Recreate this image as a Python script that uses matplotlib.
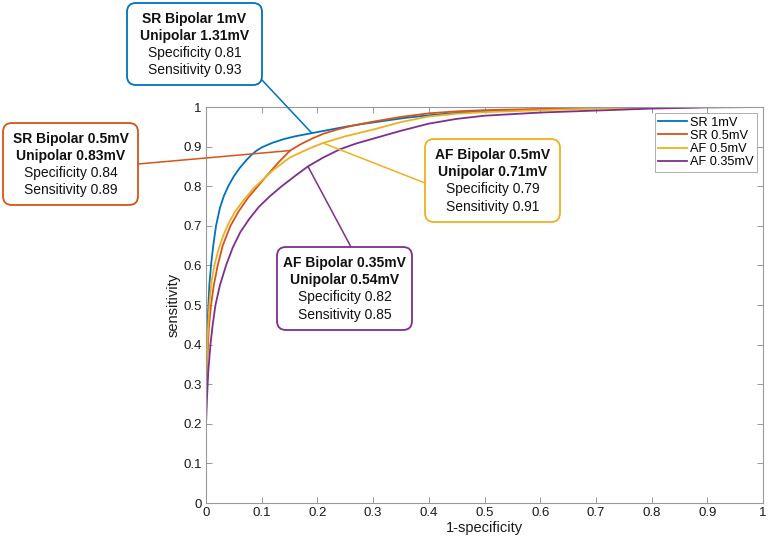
import matplotlib
matplotlib.use("Agg")
import matplotlib.pyplot as plt
from matplotlib.patches import FancyBboxPatch
from matplotlib.transforms import IdentityTransform

plt.rcParams['font.family'] = ['Liberation Sans', 'DejaVu Sans']

# ROC curves (1-specificity, sensitivity)
sr1_x = [0, 0, 0.001, 0.002, 0.004, 0.006, 0.009, 0.013, 0.018, 0.025, 0.032, 0.04, 0.05, 0.06, 0.07, 0.08, 0.09,
         0.10, 0.12, 0.14, 0.16, 0.19, 0.22, 0.25, 0.28, 0.32, 0.36, 0.40, 0.45, 0.50, 0.60, 0.70, 0.80, 0.90, 1.0]
sr1_y = [0, 0.30, 0.36, 0.42, 0.49, 0.55, 0.60, 0.65, 0.70, 0.745, 0.775, 0.80, 0.825, 0.845, 0.862, 0.877, 0.889,
         0.898, 0.910, 0.919, 0.926, 0.934, 0.942, 0.950, 0.957, 0.965, 0.973, 0.979, 0.985, 0.989, 0.994, 0.997,
         0.999, 1.0, 1.0]

sr05_x = [0, 0, 0.002, 0.005, 0.009, 0.014, 0.021, 0.030, 0.044, 0.058, 0.075, 0.093, 0.11, 0.13, 0.151, 0.17,
          0.19, 0.21, 0.235, 0.26, 0.30, 0.35, 0.40, 0.45, 0.50, 0.60, 0.70, 0.80, 0.90, 1.0]
sr05_y = [0, 0.25, 0.35, 0.44, 0.50, 0.55, 0.60, 0.65, 0.70, 0.735, 0.77, 0.80, 0.828, 0.86, 0.89, 0.906,
          0.92, 0.932, 0.943, 0.952, 0.963, 0.975, 0.984, 0.989, 0.992, 0.995, 0.998, 0.999, 1.0, 1.0]

af05_x = [0, 0, 0.001, 0.003, 0.006, 0.010, 0.015, 0.022, 0.030, 0.040, 0.052, 0.066, 0.085, 0.10, 0.12,
          0.15, 0.185, 0.21, 0.25, 0.30, 0.35, 0.40, 0.45, 0.50, 0.60, 0.70, 0.80, 0.90, 1.0]
af05_y = [0, 0.25, 0.33, 0.42, 0.50, 0.56, 0.60, 0.638, 0.672, 0.705, 0.735, 0.762, 0.794, 0.814, 0.84,
          0.872, 0.895, 0.909, 0.926, 0.943, 0.962, 0.976, 0.983, 0.987, 0.992, 0.996, 0.999, 1.0, 1.0]

af035_x = [0, 0, 0.002, 0.004, 0.008, 0.012, 0.017, 0.025, 0.036, 0.048, 0.062, 0.078, 0.095, 0.115, 0.136, 0.16,
           0.183, 0.21, 0.24, 0.27, 0.30, 0.35, 0.40, 0.45, 0.50, 0.60, 0.70, 0.80, 0.90, 1.0]
af035_y = [0, 0.20, 0.27, 0.33, 0.40, 0.45, 0.50, 0.55, 0.60, 0.645, 0.685, 0.718, 0.748, 0.775, 0.80, 0.826,
           0.85, 0.872, 0.893, 0.908, 0.92, 0.94, 0.958, 0.97, 0.978, 0.986, 0.991, 0.996, 0.999, 1.0]

labels = ["SR 1mV", "SR 0.5mV", "AF 0.5mV", "AF 0.35mV"]
colors = ["#0072BD", "#D95319", "#EDB120", "#7E2F8E"]

# operating points highlighted by the callouts
point_x = [0.19, 0.151, 0.21, 0.183]
point_y = [0.934, 0.89, 0.909, 0.85]
callout_bold = [["SR Bipolar 1mV", "Unipolar 1.31mV"],
                ["SR Bipolar 0.5mV", "Unipolar 0.83mV"],
                ["AF Bipolar 0.5mV", "Unipolar 0.71mV"],
                ["AF Bipolar 0.35mV", "Unipolar 0.54mV"]]
callout_plain = [["Specificity 0.81", "Sensitivity 0.93"],
                 ["Specificity 0.84", "Sensitivity 0.89"],
                 ["Specificity 0.79", "Sensitivity 0.91"],
                 ["Specificity 0.82", "Sensitivity 0.85"]]

W, H = 768, 547
fig = plt.figure(figsize=(W / 100, H / 100), dpi=100)
ax = fig.add_axes([206 / W, 1 - 503 / H, (763 - 206) / W, (503 - 107) / H])

curves = [(sr1_x, sr1_y), (sr05_x, sr05_y), (af05_x, af05_y), (af035_x, af035_y)]
for (cx, cy), lab, col in zip(curves, labels, colors):
    ax.plot(cx, cy, color=col, lw=1.3, label=lab, solid_joinstyle="round")

ax.set_xlim(0, 1)
ax.set_ylim(0, 1)
ticks = [i / 10 for i in range(11)]
ax.set_xticks(ticks)
ax.set_yticks(ticks)
ax.set_xticklabels(["%g" % t for t in ticks])
ax.set_yticklabels(["%g" % t for t in ticks])
ax.tick_params(direction="in", length=4, width=0.6, color="#888888",
               labelsize=9.5, labelcolor="#1a1a1a", top=True, right=True, pad=3)
for s in ax.spines.values():
    s.set_color("#999999")
    s.set_linewidth(0.8)
ax.set_xlabel("1-specificity", fontsize=10.5, color="#1a1a1a", labelpad=1)
ax.set_ylabel("sensitivity", fontsize=10.5, color="#1a1a1a", labelpad=2)

leg = ax.legend(loc="upper right", fontsize=9.2, frameon=True, fancybox=False,
                handlelength=2.2, handletextpad=0.25, borderpad=0.25, labelspacing=0.1,
                borderaxespad=0.5)
leg.get_frame().set_edgecolor("#999999")
leg.get_frame().set_linewidth(0.7)

# callout boxes in image pixels (left, top, right, bottom) and leader-line anchors
boxes = [(127, 3, 262, 85), (3, 123, 138, 205), (425, 139, 560, 222), (277, 247, 412, 330)]
anchors = [(262, 80), (138, 164), (425, 183), (351, 247)]

for i in range(4):
    l, t, r, b = boxes[i]
    col = colors[i]
    ax_, ay_ = anchors[i]
    ax.annotate("", xy=(point_x[i], point_y[i]), xycoords="data",
                xytext=(ax_ / W, 1 - ay_ / H), textcoords="figure fraction",
                arrowprops=dict(arrowstyle="-", color=col, lw=1.1, shrinkA=0, shrinkB=0),
                annotation_clip=False, zorder=5)
    box = FancyBboxPatch((l, H - b), r - l, b - t, boxstyle="round,pad=0,rounding_size=9",
                         transform=IdentityTransform(), facecolor="white", edgecolor=col,
                         linewidth=1.3, zorder=6)
    fig.add_artist(box)
    cx = (l + r) / 2
    lines = [(s, "bold") for s in callout_bold[i]] + [(s, "normal") for s in callout_plain[i]]
    step = (b - t) / 4.85
    for j, (s, w) in enumerate(lines):
        yy = t + step * (0.95 + j)
        fig.text(cx / W, 1 - yy / H, s, ha="center", va="center", fontsize=10,
                 fontweight=w, color="#111111", zorder=7)

fig.savefig("out.png", dpi=100, facecolor="white")
